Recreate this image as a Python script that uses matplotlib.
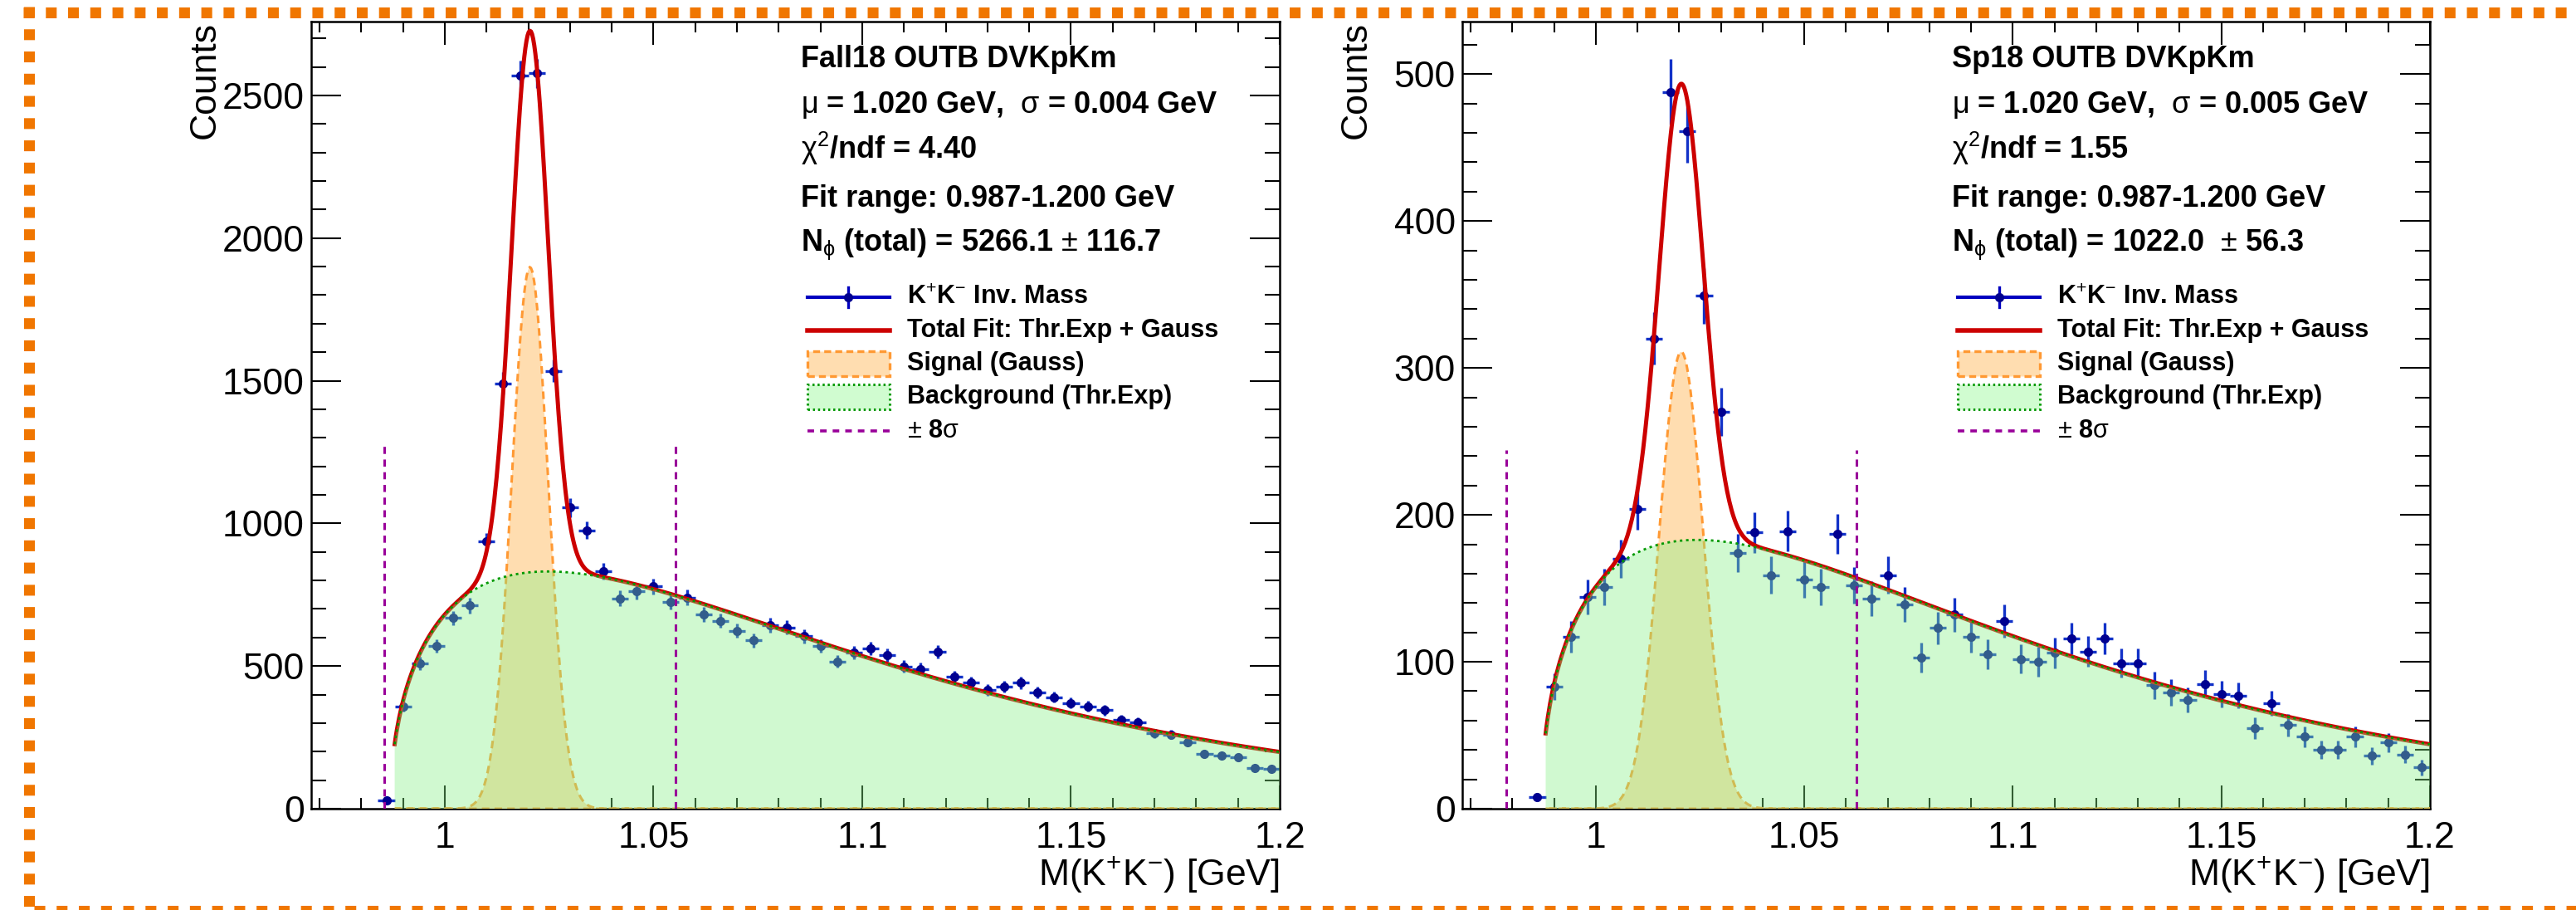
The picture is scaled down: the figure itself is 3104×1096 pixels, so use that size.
import numpy as np
import matplotlib
matplotlib.use("Agg")
import matplotlib.pyplot as plt
from matplotlib.lines import Line2D
from matplotlib.patches import Rectangle
from matplotlib.ticker import MultipleLocator, FuncFormatter

plt.rcParams['font.family'] = ['Liberation Sans', 'DejaVu Sans']
plt.rcParams['mathtext.fontset'] = 'custom'
plt.rcParams['mathtext.rm'] = 'Liberation Sans'
plt.rcParams['mathtext.it'] = 'Liberation Sans:italic'
plt.rcParams['mathtext.bf'] = 'Liberation Sans:bold'
plt.rcParams['mathtext.default'] = 'rm'

# K+K- invariant mass bin centres [GeV], bin width 0.004
mass = [0.986, 0.990, 0.994, 0.998, 1.002, 1.006, 1.010, 1.014, 1.018, 1.022,
        1.026, 1.030, 1.034, 1.038, 1.042, 1.046, 1.050, 1.054, 1.058, 1.062,
        1.066, 1.070, 1.074, 1.078, 1.082, 1.086, 1.090, 1.094, 1.098, 1.102,
        1.106, 1.110, 1.114, 1.118, 1.122, 1.126, 1.130, 1.134, 1.138, 1.142,
        1.146, 1.150, 1.154, 1.158, 1.162, 1.166, 1.170, 1.174, 1.178, 1.182,
        1.186, 1.190, 1.194, 1.198]
bin_width = 0.004

counts_fall18 = [30, 359, 510, 571, 668, 712, 936, 1491, 2571, 2577,
                 1535, 1055, 976, 833, 737, 762, 779, 726, 740, 681,
                 659, 624, 590, 643, 635, 604, 571, 516, 547, 562,
                 538, 499, 490, 549, 463, 441, 416, 427, 441, 408,
                 391, 370, 359, 345, 311, 304, 264, 260, 234, 193,
                 185, 179, 142, 140]

counts_sp18 = [8, 83, 117, 144, 151, 170, 204, 320, 488, 461,
               349, 270, 174, 188, 159, 189, 156, 151, 187, 152,
               143, 159, 139, 103, 123, 132, 117, 105, 128, 102,
               100, 106, 116, 107, 116, 99, 99, 84, 79, 74,
               85, 78, 77, 55, 72, 57, 49, 40, 40, 49,
               36, 45, 37, 28]

# fit parameters (Gauss: mu, sigma, amplitude; threshold exp: thr, A, p, b)
fit_fall18 = dict(mu=1.0204, sigma=0.00437, amp=1898, thr=0.987, A=6766, p=0.49, b=13.0)
fit_sp18 = dict(mu=1.0205, sigma=0.00525, amp=311, thr=0.987, A=1440, p=0.481, b=12.9)
curve_start = 0.988
curve_end = 1.2

# +-8 sigma marker heights
vline_top_fall18 = 1290
vline_top_sp18 = 244

titles = ["Fall18 OUTB DVKpKm", "Sp18 OUTB DVKpKm"]
stat_lines = [
    [r"$\mu$ = 1.020 GeV,  $\sigma$ = 0.004 GeV",
     r"$\chi^{2}$/ndf = 4.40",
     "Fit range: 0.987-1.200 GeV",
     r"N$_{\phi}$ (total) = 5266.1 $\pm$ 116.7"],
    [r"$\mu$ = 1.020 GeV,  $\sigma$ = 0.005 GeV",
     r"$\chi^{2}$/ndf = 1.55",
     "Fit range: 0.987-1.200 GeV",
     r"N$_{\phi}$ (total) = 1022.0  $\pm$ 56.3"],
]
legend_labels = [r"K$^{+}$K$^{-}$ Inv. Mass", "Total Fit: Thr.Exp + Gauss",
                 "Signal (Gauss)", "Background (Thr.Exp)", r"$\pm$ 8$\sigma$"]

C_DATA = '#000090'
C_ERR = '#1232c8'
C_RED = '#cc0000'
C_SIG_FILL = '#ffddb0'
C_SIG_EDGE = '#ff9933'
C_BG_FILL = (134 / 255, 242 / 255, 134 / 255)
C_BG_EDGE = '#009900'
C_MAG = '#990099'
C_BORDER = '#f07600'


def thr_exp(x, f):
    u = np.clip(x - f['thr'], 0, None)
    return f['A'] * u ** f['p'] * np.exp(-f['b'] * u)


def gauss(x, f):
    return f['amp'] * np.exp(-0.5 * ((x - f['mu']) / f['sigma']) ** 2)


def draw_panel(ax, counts, fit, vtop, ymax, ymaj, ymin, title, lines):
    x = np.array(mass)
    y = np.array(counts, dtype=float)
    ax.errorbar(x, y, yerr=np.sqrt(y), xerr=bin_width / 2, fmt='o', ms=7,
                color=C_DATA, ecolor=C_ERR, elinewidth=2.4, capsize=0, zorder=2)

    xs = np.linspace(curve_start, curve_end, 800)
    sig = gauss(xs, fit)
    bg = thr_exp(xs, fit)

    ax.fill(np.r_[xs, xs[::-1]], np.r_[sig, np.zeros_like(xs)],
            facecolor=C_SIG_FILL, edgecolor=C_SIG_EDGE, linestyle=(0, (3, 2)),
            linewidth=2.2, zorder=3)
    ax.plot(xs, sig + bg, color=C_RED, lw=3.6, zorder=4)
    ax.fill(np.r_[xs[0], xs, xs[-1]], np.r_[0, bg, 0], facecolor=C_BG_FILL,
            alpha=0.39, edgecolor='none', zorder=5)
    ax.plot(xs, bg, color=C_BG_EDGE, lw=2.0, linestyle=(0, (1.1, 1.6)), zorder=6)

    for xv in (fit['mu'] - 8 * fit['sigma'], fit['mu'] + 8 * fit['sigma']):
        ax.plot([xv, xv], [0, vtop], color=C_MAG, lw=2.2,
                linestyle=(0, (2.8, 2.2)), zorder=7)

    ax.set_xlim(0.968, 1.2)
    ax.set_ylim(0, ymax)
    ax.xaxis.set_major_locator(MultipleLocator(0.05))
    ax.xaxis.set_minor_locator(MultipleLocator(0.01))
    ax.xaxis.set_major_formatter(FuncFormatter(lambda v, p: '%g' % round(v, 3)))
    ax.yaxis.set_major_locator(MultipleLocator(ymaj))
    ax.yaxis.set_minor_locator(MultipleLocator(ymin))
    ax.tick_params(which='both', direction='in', top=True, right=True,
                   labelsize=32, width=1.5, color='black')
    ax.tick_params(axis='x', which='major', length=20, pad=11)
    ax.tick_params(axis='x', which='minor', length=9.7)
    ax.tick_params(axis='y', which='major', length=25.7, pad=6)
    ax.tick_params(axis='y', which='minor', length=12.9)
    for s in ax.spines.values():
        s.set_linewidth(1.8)

    ax.set_xlabel(r"M(K$^{+}$K$^{-}$) [GeV]", fontsize=32, loc='right')
    ax.xaxis.set_label_coords(1.0, -0.058)
    ax.set_ylabel("Counts", fontsize=32, loc='top')
    ax.yaxis.set_label_coords(-0.092, 1.0)

    # header text
    tx = 0.5056
    ax.text(tx, 0.9416, title, transform=ax.transAxes, fontsize=26,
            fontweight='bold', va='baseline', zorder=10)
    for yy, s in zip([0.8836, 0.8256, 0.7645, 0.7086], lines):
        ax.text(tx, yy, s, transform=ax.transAxes, fontsize=26,
                fontweight='bold', va='baseline', zorder=10)

    # legend, drawn by hand
    rows = [0.6495, 0.6073, 0.5651, 0.5230, 0.4797]
    x0, x1, xt = 0.512, 0.597, 0.615
    xm = (x0 + x1) / 2
    ax.add_line(Line2D([x0, x1], [rows[0]] * 2, transform=ax.transAxes,
                       color='#0000c0', lw=3, zorder=10))
    ax.add_line(Line2D([xm, xm], [rows[0] - 0.013, rows[0] + 0.013],
                       transform=ax.transAxes, color='#0000c0', lw=2.4, zorder=10))
    ax.add_line(Line2D([xm], [rows[0]], transform=ax.transAxes, marker='o',
                       ms=7, color=C_DATA, zorder=11))
    ax.add_line(Line2D([x0, x1], [rows[1]] * 2, transform=ax.transAxes,
                       color=C_RED, lw=4, zorder=10))
    h = 0.031
    ax.add_patch(Rectangle((x0, rows[2] - h / 2), x1 - x0, h, transform=ax.transAxes,
                           facecolor=C_SIG_FILL, edgecolor=C_SIG_EDGE, lw=2.4,
                           linestyle=(0, (2.5, 1.5)), zorder=10))
    ax.add_patch(Rectangle((x0, rows[3] - h / 2), x1 - x0, h, transform=ax.transAxes,
                           facecolor='#d0fcd0', edgecolor=C_BG_EDGE, lw=2.2,
                           linestyle=(0, (0.8, 1.2)), zorder=10))
    ax.add_line(Line2D([x0, x1], [rows[4]] * 2, transform=ax.transAxes,
                       color=C_MAG, lw=2.6, linestyle=(0, (2.2, 2.0)), zorder=10))
    for yy, s in zip(rows, legend_labels):
        ax.text(xt, yy, s, transform=ax.transAxes, fontsize=22,
                fontweight='bold', va='center', zorder=10)


fig = plt.figure(figsize=(31.04, 10.96), dpi=100)
ax1 = fig.add_axes([0.12081, 0.11131, 0.37597, 0.86533])
ax2 = fig.add_axes([0.56765, 0.11131, 0.37564, 0.86533])

draw_panel(ax1, counts_fall18, fit_fall18, vline_top_fall18, 2760, 500, 100,
           titles[0], stat_lines[0])
draw_panel(ax2, counts_sp18, fit_sp18, vline_top_sp18, 536, 100, 20,
           titles[1], stat_lines[1])

# orange dotted frame (top, left, bottom; right side is cut off)
W, H = 3104.0, 1096.0
border_kw = dict(transform=fig.transFigure, color=C_BORDER, lw=9.4,
                 linestyle=(0, (1.0, 1.05)), solid_capstyle='butt',
                 dash_capstyle='butt', clip_on=False)
fig.add_artist(Line2D([28 / W, 1.0], [1 - 14.5 / H] * 2, **border_kw))
fig.add_artist(Line2D([34.5 / W] * 2, [1 - 8 / H, 0.0], **border_kw))
fig.add_artist(Line2D([41 / W, 1.0], [1 - 1096.5 / H] * 2, **border_kw))

fig.savefig("out.png", dpi=100)
